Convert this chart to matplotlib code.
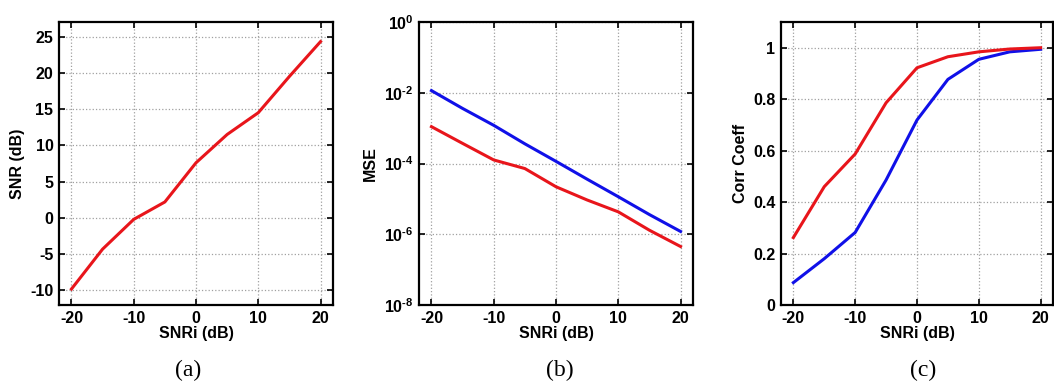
import numpy as np
import matplotlib
matplotlib.use('Agg')
import matplotlib.pyplot as plt

# SNRi sweep (dB)
snri = [-20, -15, -10, -5, 0, 5, 10, 15, 20]

# (a) output SNR
snr_out = [-9.8, -4.3, -0.2, 2.2, 7.6, 11.5, 14.5, 19.5, 24.3]

# (b) MSE
mse_blue = [1.15e-2, 3.6e-3, 1.2e-3, 3.6e-4, 1.15e-4, 3.6e-5, 1.15e-5, 3.6e-6, 1.2e-6]
mse_red = [1.1e-3, 3.7e-4, 1.26e-4, 7.2e-5, 2.2e-5, 9.3e-6, 4.3e-6, 1.3e-6, 4.5e-7]
mse_exps = [-8, -6, -4, -2, 0]

# (c) correlation coefficient
cc_red = [0.262, 0.46, 0.587, 0.786, 0.922, 0.965, 0.984, 0.995, 1.0]
cc_blue = [0.087, 0.18, 0.282, 0.486, 0.719, 0.877, 0.955, 0.984, 0.994]

plt.rcParams['font.family'] = ['Liberation Sans', 'DejaVu Sans']
plt.rcParams['font.weight'] = 'bold'
plt.rcParams['axes.unicode_minus'] = False
plt.rcParams['mathtext.fontset'] = 'custom'
plt.rcParams['mathtext.bf'] = 'Liberation Sans:bold'
plt.rcParams['mathtext.rm'] = 'Liberation Sans:bold'

W, H = 1054, 383
fig = plt.figure(figsize=(W / 100, H / 100), dpi=100)
fs = 11.5


def make_ax(left_px, right_px):
    ax = fig.add_axes([left_px / W, (H - 305) / H, (right_px - left_px) / W, 283 / H])
    ax.grid(True, color='#a0a0a0', linestyle=':', linewidth=0.9)
    ax.tick_params(direction='in', top=True, right=True, length=4, width=1.2,
                   labelsize=fs, pad=4)
    for s in ax.spines.values():
        s.set_linewidth(1.6)
    ax.set_xlim(-22, 22)
    ax.set_xticks([-20, -10, 0, 10, 20])
    ax.set_xlabel('SNRi (dB)', fontsize=fs, fontweight='bold', labelpad=0)
    return ax


lw = 2.2
red = '#e8151b'
blue = '#1010e8'

ax1 = make_ax(59, 333)
ax1.plot(snri, snr_out, color=red, lw=lw)
ax1.set_ylim(-12, 27)
ax1.set_yticks([-10, -5, 0, 5, 10, 15, 20, 25])
ax1.set_ylabel('SNR (dB)', fontsize=fs, fontweight='bold')

ax2 = make_ax(419, 693)
ax2.semilogy(snri, mse_blue, color=blue, lw=lw)
ax2.semilogy(snri, mse_red, color=red, lw=lw)
ax2.set_ylim(1e-8, 1e0)
ax2.set_yticks([10.0 ** e for e in mse_exps])
# \text{} keeps the plain hyphen in the exponent (MATLAB look)
ax2.set_yticklabels([r'$\mathbf{10^{\text{%d}}}$' % e for e in mse_exps])
ax2.minorticks_off()
ax2.set_ylabel('MSE', fontsize=fs, fontweight='bold')

ax3 = make_ax(781, 1053)
ax3.plot(snri, cc_blue, color=blue, lw=lw)
ax3.plot(snri, cc_red, color=red, lw=lw)
ax3.set_ylim(0, 1.1)
ax3.set_yticks([0, 0.2, 0.4, 0.6, 0.8, 1.0])
ax3.set_yticklabels(['0', '0.2', '0.4', '0.6', '0.8', '1'])
ax3.set_ylabel('Corr Coeff', fontsize=fs, fontweight='bold')

for ax in (ax1, ax2, ax3):
    for lab in ax.get_xticklabels() + ax.get_yticklabels():
        lab.set_fontweight('bold')

for x, t in [(188, '(a)'), (560, '(b)'), (923, '(c)')]:
    fig.text(x / W, 1 - 370 / H, t, ha='center', va='center',
             fontsize=17, family='Liberation Serif', fontweight='normal')

fig.savefig('out.png', dpi=100)
